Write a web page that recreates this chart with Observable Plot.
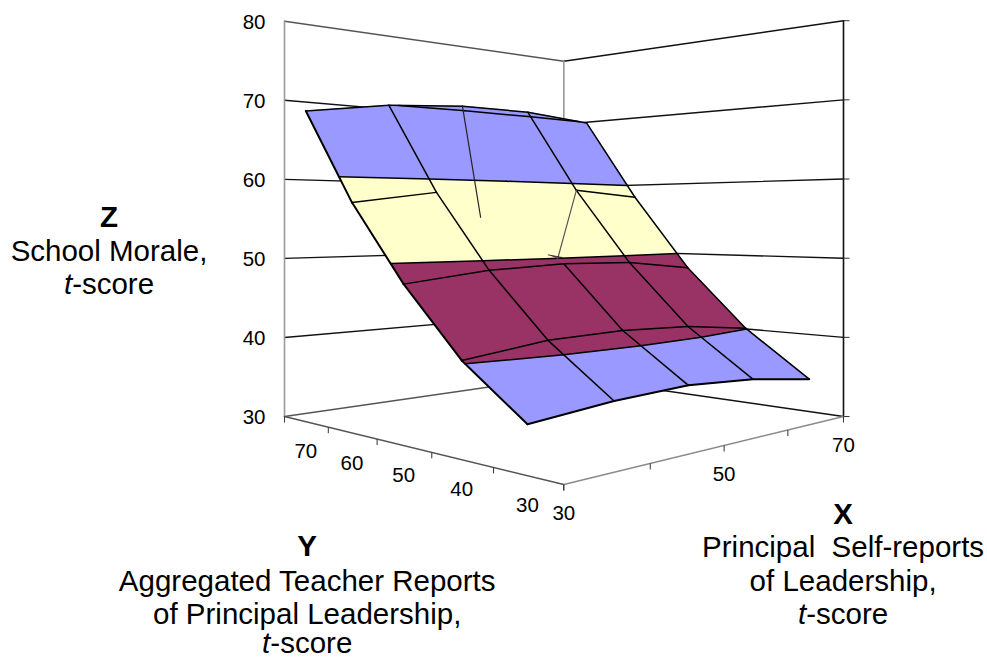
<!DOCTYPE html>
<html>
<head>
<meta charset="utf-8">
<script src="https://cdn.jsdelivr.net/npm/d3@7"></script>
<script src="https://cdn.jsdelivr.net/npm/@observablehq/plot@0.6"></script>
<style>html,body{margin:0;padding:0;background:#fff}svg{display:block}</style>
</head>
<body>
<script>
// ---- data ----
const xCategories = [30, 40, 50, 60, 70];
const yCategories = [30, 40, 50, 60, 70];
const zTicks = [30, 40, 50, 60, 70, 80];
const xLabels = [30, 50, 70];
const yLabels = [30, 40, 50, 60, 70];
const moraleAtY30 = [35.0, 35.8, 36.1, 35.5, 34.2];
const moraleAtY40 = [40.3, 41.4, 41.6, 41.2, 40.1];
const moraleAtY50 = [47.8, 48.9, 49.3, 49.1, 48.0];
const moraleAtY60 = [56.9, 58.3, 59.0, 59.0, 58.2];
const moraleAtY70 = [68.3, 69.9, 70.7, 70.7, 69.9];
const bandLevels = [30, 40, 50, 60, 70, 80];
const bandColors = ["#9999FF", "#993366", "#FFFFCC", "#9999FF", "#9999FF"];
const strayLineA = [[50, 70, 70.7], [45.8, 60, 55.2]];
const strayLineB = [[60, 60, 59.0], [49.1, 50, 49.9]];
const strayNotch = [[47.8, 50, 50.5], [49.8, 50, 50.1], [49.0, 50, 50.0]];
const zTitle = ["Z", "School Morale,", "t-score"];
const yTitle = ["Y", "Aggregated Teacher Reports", "of Principal Leadership,", "t-score"];
const xTitle = ["X", "Principal\u00a0 Self-reports", "of Leadership,", "t-score"];

// ---- perspective of the box ----
const Y_NEAR = 25, Y_FAR = 75, X_NEAR = 30, X_FAR = 70;
function project(X, Y, Z) {
  const u = (X - 30) / 40, v = (Y - 25) / 50, w = (Z - 30) / 50;
  const d = 1 + 0.3427 * u + 0.3446 * v;
  return {
    x: (563.3 + 568.6 * u - 181.4 * v) / d,
    y: (484 + 74.6 * u + 75.4 * v - 531.5 * w) / d
  };
}
const P = (X, Y, Z, extra = {}) => ({...project(X, Y, Z), ...extra});

const zRows = [moraleAtY30, moraleAtY40, moraleAtY50, moraleAtY60, moraleAtY70];

// ---- surface cut into colour bands ----
function clip(poly, level, keepAbove) {
  const out = [];
  for (let i = 0; i < poly.length; i++) {
    const a = poly[i], b = poly[(i + 1) % poly.length];
    const ain = keepAbove ? a[2] >= level : a[2] <= level;
    const bin = keepAbove ? b[2] >= level : b[2] <= level;
    if (ain) out.push(a);
    if (ain !== bin) {
      const t = (level - a[2]) / (b[2] - a[2]);
      out.push([a[0] + t * (b[0] - a[0]), a[1] + t * (b[1] - a[1]), level]);
    }
  }
  return out;
}
const bandPts = [], contourPts = [];
let pid = 0, cid = 0;
for (let j = yCategories.length - 2; j >= 0; j--) {
  for (let i = 0; i < xCategories.length - 1; i++) {
    const quad = [
      [xCategories[i], yCategories[j], zRows[j][i]],
      [xCategories[i + 1], yCategories[j], zRows[j][i + 1]],
      [xCategories[i + 1], yCategories[j + 1], zRows[j + 1][i + 1]],
      [xCategories[i], yCategories[j + 1], zRows[j + 1][i]]
    ];
    bandColors.forEach((c, b) => {
      let poly = clip(quad, bandLevels[b], true);
      if (poly.length) poly = clip(poly, bandLevels[b + 1], false);
      if (poly.length < 3) return;
      pid++;
      poly.forEach(p => bandPts.push(P(p[0], p[1], p[2], {id: pid, c})));
    });
    bandLevels.slice(1, -1).forEach(level => {
      const hits = [];
      quad.forEach((a, k) => {
        const b = quad[(k + 1) % 4];
        if ((a[2] < level) !== (b[2] < level)) {
          const t = (level - a[2]) / (b[2] - a[2]);
          hits.push([a[0] + t * (b[0] - a[0]), a[1] + t * (b[1] - a[1]), level]);
        }
      });
      if (hits.length >= 2) {
        cid++;
        hits.slice(0, 2).forEach(h => contourPts.push(P(h[0], h[1], h[2], {id: cid})));
      }
    });
  }
}

// ---- mesh lines (the reference has a few missing around one node) ----
const meshPts = [], edgePts = [];
let mid = 0;
const seg = (a, b, heavy) => {
  mid++;
  (heavy ? edgePts : meshPts).push(P(...a, {id: mid}), P(...b, {id: mid}));
};
zRows.forEach((row, j) => row.forEach((z, i) => {
  const X = xCategories[i], Y = yCategories[j];
  if (i < 4 && !(j === 3 && (i === 1 || i === 2)))
    seg([X, Y, z], [xCategories[i + 1], Y, row[i + 1]], j === 0);
  if (j < 4 && !(i === 2 && j >= 2))
    seg([X, Y, z], [X, yCategories[j + 1], zRows[j + 1][i]], i === 0);
}));

// ---- box ----
const wallLine = Z => [P(X_NEAR, Y_FAR, Z, {id: Z}), P(X_FAR, Y_FAR, Z, {id: Z}), P(X_FAR, Y_NEAR, Z, {id: Z})];
const leftWallLine = Z => [P(X_NEAR, Y_FAR, Z), P(X_FAR, Y_FAR, Z)];
const rightWallLine = Z => [P(X_FAR, Y_FAR, Z), P(X_FAR, Y_NEAR, Z)];
const midGrid = zTicks.slice(1, -1).flatMap(wallLine);

const yTicksAt = d3.range(0, 6).map(k => Y_NEAR + k * 10);
const floorTicks = [
  ...yTicksAt.map(Y => P(X_NEAR, Y, 30)),
  ...xCategories.map(X => P(X, Y_NEAR, 30))
];
const sideTicks = zTicks.map(Z => P(X_FAR, Y_NEAR, Z));

const line = (pts, opts) => Plot.line(pts, {x: "x", y: "y", ...opts});
const TITLE_SIZE = 29.5;
const TICK_SIZE = 20.5;
const titleMarks = (lines, x, ys) => [
  Plot.text(lines.slice(0, 1), {x: () => x, y: () => ys[0], text: d => d, fontSize: TITLE_SIZE, fontWeight: "bold", fill: "#000"}),
  Plot.text(lines.slice(1), {x: () => x, y: (d, i) => ys[i + 1], text: d => d, fontSize: TITLE_SIZE, fill: "#000"})
];

const chart = Plot.plot({
  width: 987,
  height: 660,
  margin: 0,
  x: {domain: [0, 987], range: [0, 987], axis: null},
  y: {domain: [0, 660], range: [0, 660], axis: null},
  color: {type: "identity"},
  style: {fontFamily: "'Liberation Sans', Arial, sans-serif", background: "#fff"},
  marks: [
    // walls
    line(midGrid, {z: "id", stroke: "#111", strokeWidth: 1.4}),
    line(leftWallLine(80), {stroke: "#555", strokeWidth: 1.4}),
    line(leftWallLine(30), {stroke: "#555", strokeWidth: 1.4}),
    line(rightWallLine(80), {stroke: "#111", strokeWidth: 1.4}),
    line(rightWallLine(30), {stroke: "#111", strokeWidth: 1.4}),
    line([P(X_NEAR, Y_FAR, 30), P(X_NEAR, Y_FAR, 80)], {stroke: "#999", strokeWidth: 1.6}),
    line([P(X_FAR, Y_FAR, 30), P(X_FAR, Y_FAR, 80)], {stroke: "#999", strokeWidth: 1.6}),
    line([P(X_FAR, Y_NEAR, 30), P(X_FAR, Y_NEAR, 80)], {stroke: "#111", strokeWidth: 1.6}),
    // floor edges
    line([P(X_NEAR, Y_NEAR, 30), P(X_NEAR, Y_FAR, 30)], {stroke: "#555", strokeWidth: 1.5}),
    line([P(X_NEAR, Y_NEAR, 30), P(X_FAR, Y_NEAR, 30)], {stroke: "#8a8a8a", strokeWidth: 1.5}),
    // ticks
    Plot.link(floorTicks, {x1: "x", x2: "x", y1: "y", y2: d => d.y + 6, stroke: "#333", strokeWidth: 1}),
    Plot.link(sideTicks, {x1: "x", y1: "y", x2: d => d.x + 6, y2: "y", stroke: "#333", strokeWidth: 1}),
    // surface
    line(bandPts, {z: "id", fill: "c", stroke: "c", strokeWidth: 1}),
    line(meshPts, {z: "id", stroke: "#000", strokeWidth: 1.5}),
    line(edgePts, {z: "id", stroke: "#000", strokeWidth: 2}),
    line(contourPts, {z: "id", stroke: "#000", strokeWidth: 1.5}),
    line(strayLineA.map(p => P(...p)), {stroke: "#222", strokeWidth: 1.2}),
    line(strayLineB.map(p => P(...p)), {stroke: "#555", strokeWidth: 1.2}),
    line(strayNotch.map(p => P(...p)), {fill: "#993366", stroke: "#222", strokeWidth: 0.8}),
    // tick labels
    Plot.text(zTicks, {x: () => 265, y: z => project(X_NEAR, Y_FAR, z).y + 1, text: d => String(d), textAnchor: "end", fontSize: TICK_SIZE, fill: "#000"}),
    Plot.text(xLabels, {x: d => project(d, Y_NEAR, 30).x, y: d => project(d, Y_NEAR, 30).y, dy: 29, text: d => String(d), fontSize: TICK_SIZE, fill: "#000"}),
    Plot.text(yLabels, {x: d => project(X_NEAR, d, 30).x, y: d => project(X_NEAR, d, 30).y, dy: 30, text: d => String(d), fontSize: TICK_SIZE, fill: "#000"}),
    // axis titles
    ...titleMarks(zTitle, 108.5, [216.6, 250.6, 283.6]),
    ...titleMarks(yTitle, 306.7, [545.6, 580.6, 613.6, 643.5]),
    ...titleMarks(xTitle, 842.6, [513.6, 547.3, 580.6, 613.6])
  ]
});
chart.querySelectorAll("text").forEach(t => {
  if (t.textContent === "t-score") {
    t.textContent = "";
    const ns = "http://www.w3.org/2000/svg";
    const a = document.createElementNS(ns, "tspan");
    a.setAttribute("font-style", "italic");
    a.textContent = "t";
    const b = document.createElementNS(ns, "tspan");
    b.textContent = "-score";
    t.append(a, b);
  }
});
document.body.appendChild(chart);
</script>
</body>
</html>
